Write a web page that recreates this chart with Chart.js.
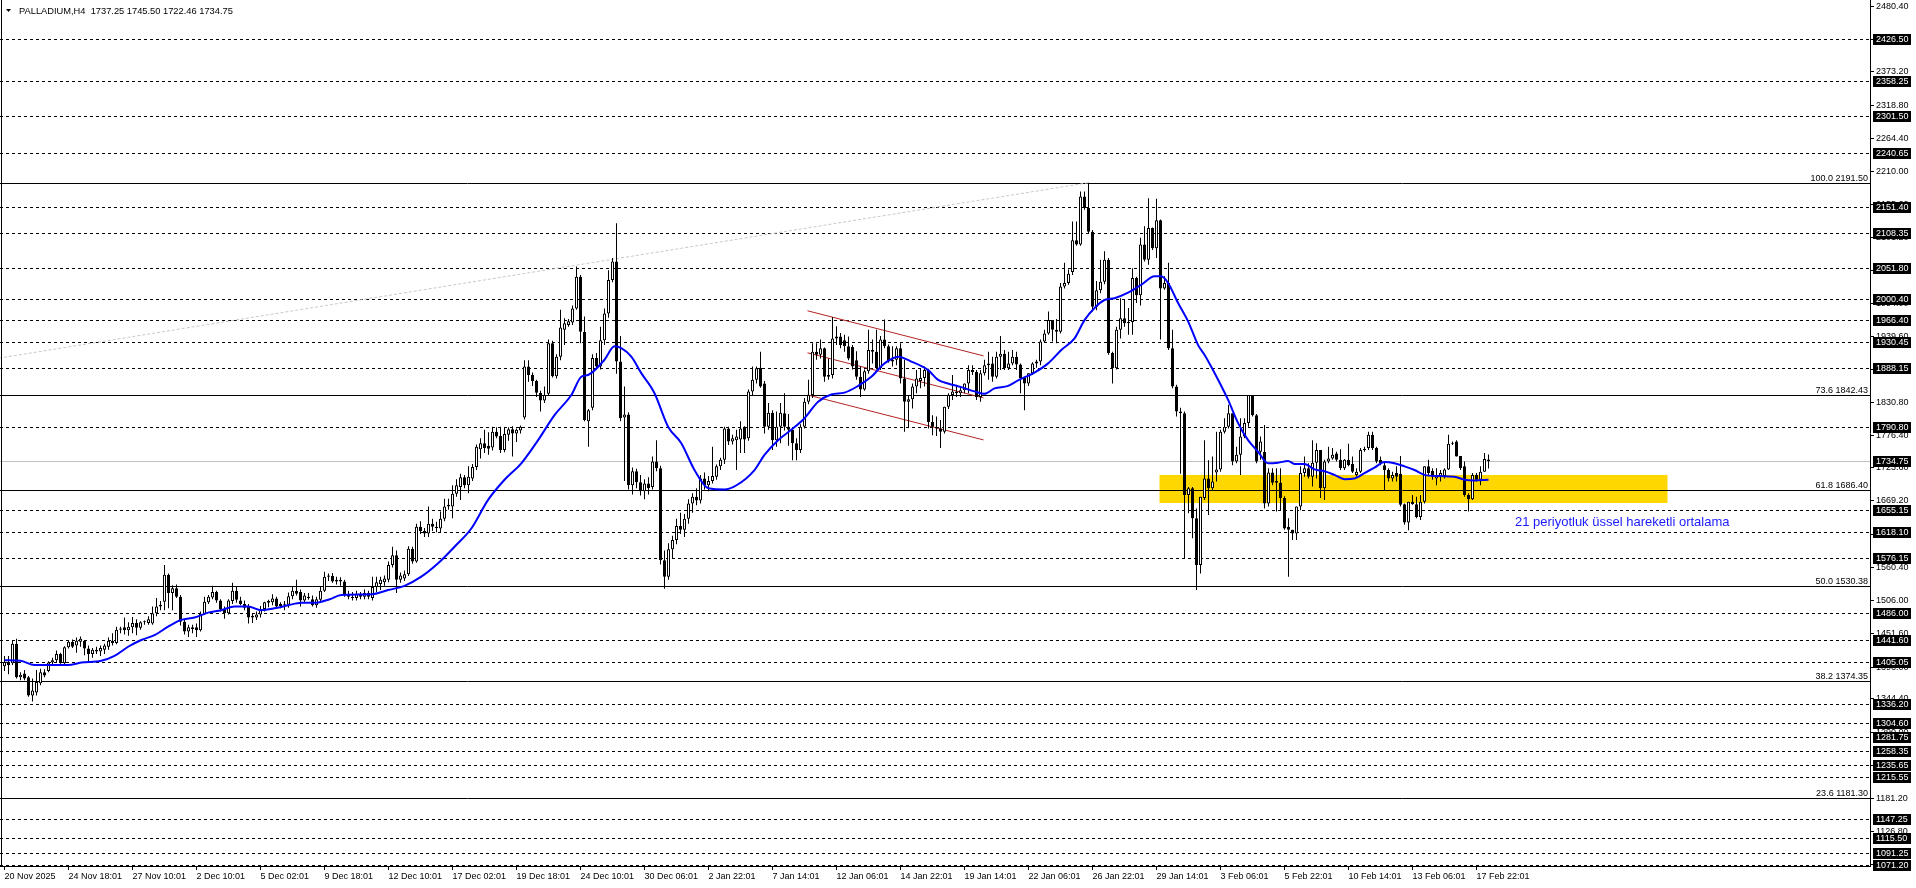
<!DOCTYPE html>
<html>
<head>
<meta charset="utf-8">
<title>PALLADIUM,H4</title>
<script src="https://cdn.jsdelivr.net/npm/chart.js@4.4.1/dist/chart.umd.min.js"></script>
<style>
html, body { margin: 0; padding: 0; background: #fff; overflow: hidden; }
#wrap { width: 1916px; height: 888px; position: relative; }
</style>
</head>
<body>
<div id="wrap"><canvas id="chart"></canvas></div>
<script>
// H4 candles, bar 0 = 20 Nov 2025 02:01
var opens = [
1398,1405,1403,1435,1380,1386,1380,1350,1355,1370,
1388,1390,1404,1408,1418,1403,1429,1438,1432,1438,
1440,1427,1418,1425,1422,1425,1430,1440,1436,1458,
1462,1457,1462,1469,1461,1470,1469,1468,1485,1496,
1504,1548,1518,1526,1512,1471,1455,1462,1462,1457,
1484,1503,1511,1520,1506,1492,1485,1505,1522,1506,
1500,1496,1478,1478,1483,1492,1502,1503,1509,1497,
1500,1499,1513,1522,1520,1506,1512,1508,1498,1507,
1522,1545,1546,1537,1540,1537,1515,1512,1510,1517,
1512,1518,1510,1528,1533,1536,1540,1564,1580,1540,
1542,1549,1591,1570,1627,1620,1616,1632,1627,1624,
1640,1660,1660,1681,1692,1708,1695,1706,1725,1754,
1764,1760,1757,1783,1776,1753,1778,1787,1780,1785,
1806,1890,1876,1866,1847,1834,1845,1928,1874,1906,
1950,1958,1962,1985,2037,1947,1800,1822,1904,1890,
1933,1977,2032,2062,1898,1806,1811,1695,1718,1700,
1685,1698,1692,1734,1723,1572,1545,1590,1605,1628,
1622,1640,1665,1676,1670,1706,1695,1702,1709,1726,
1737,1788,1767,1769,1770,1791,1772,1849,1868,1888,
1862,1791,1814,1769,1791,1813,1791,1786,1764,1753,
1791,1832,1843,1914,1909,1920,1873,1876,1936,1939,
1933,1923,1922,1900,1873,1852,1882,1917,1914,1887,
1934,1923,1898,1901,1920,1870,1832,1836,1857,1866,
1871,1884,1799,1791,1788,1783,1824,1843,1849,1846,
1851,1862,1884,1881,1840,1879,1892,1895,1873,1906,
1911,1887,1895,1906,1893,1871,1862,1879,1895,1898,
1931,1944,1966,1950,1947,2021,2027,2045,2097,2090,
2169,2150,2111,1988,2015,2029,2065,1912,1887,1950,
1969,1961,1963,2035,2007,2090,2065,2117,2084,2130,
2018,2027,1920,1857,1816,1813,1679,1690,1641,1564,
1674,1706,1690,1716,1721,1783,1791,1813,1734,1745,
1775,1797,1843,1810,1750,1750,1665,1716,1702,1699,
1674,1627,1622,1616,1660,1715,1723,1709,1732,1753,
1690,1734,1739,1747,1737,1723,1737,1730,1712,1717,
1753,1756,1778,1756,1737,1728,1720,1706,1715,1714,
1664,1634,1668,1664,1643,1668,1726,1719,1706,1709,
1710,1721,1763,1767,1743,1726,1679,1672,1712,1704,
1717,1737.25
];
var highs = [
1415,1415,1441,1443,1388,1392,1382,1378,1392,1394,
1393,1406,1412,1424,1420,1431,1441,1442,1445,1447,
1441,1432,1428,1430,1432,1435,1445,1452,1463,1463,
1478,1470,1479,1475,1472,1473,1480,1496,1510,1505,
1564,1550,1531,1532,1515,1474,1466,1466,1468,1488,
1512,1515,1530,1522,1508,1496,1508,1535,1528,1512,
1506,1500,1485,1488,1497,1504,1507,1516,1512,1503,
1505,1519,1528,1540,1524,1518,1518,1514,1512,1529,
1553,1550,1551,1545,1544,1540,1522,1520,1522,1520,
1524,1522,1545,1545,1545,1547,1570,1594,1588,1552,
1555,1595,1594,1632,1636,1625,1660,1640,1635,1652,
1673,1673,1695,1705,1714,1712,1726,1730,1762,1772,
1786,1782,1791,1790,1791,1790,1790,1792,1788,1793,
1900,1900,1880,1868,1850,1857,1934,1932,1910,1983,
1969,1968,1990,2054,2040,1972,1820,1910,1912,1955,
1985,2048,2068,2125,1940,1857,1815,1724,1722,1712,
1705,1708,1742,1769,1727,1588,1600,1612,1640,1650,
1648,1672,1682,1690,1712,1716,1710,1758,1729,1740,
1791,1791,1778,1786,1800,1792,1852,1890,1890,1914,
1866,1830,1818,1816,1830,1846,1812,1790,1772,1795,
1838,1868,1928,1928,1934,1921,1903,1971,1956,1945,
1942,1939,1925,1915,1890,1885,1950,1934,1950,1940,
1967,1926,1923,1923,1928,1901,1842,1862,1884,1887,
1890,1886,1810,1808,1802,1824,1846,1876,1860,1857,
1862,1892,1892,1884,1884,1901,1914,1906,1914,1940,
1917,1914,1917,1914,1895,1873,1879,1897,1901,1934,
1950,1980,1966,1968,2027,2060,2049,2128,2128,2177,
2177,2191.5,2114,2030,2065,2079,2068,1914,1955,2002,
1999,1986,2051,2037,2101,2120,2166,2118,2165,2131,
2038,2060,1950,1860,1822,1816,1692,1692,1657,1676,
1769,1736,1742,1783,1786,1805,1827,1813,1758,1805,
1805,1843,1843,1812,1775,1794,1723,1723,1723,1723,
1677,1641,1622,1660,1726,1742,1731,1769,1764,1753,
1737,1758,1756,1750,1754,1738,1763,1742,1723,1756,
1758,1783,1783,1758,1742,1734,1723,1717,1726,1743,
1665,1668,1679,1676,1679,1726,1737,1723,1723,1720,
1723,1778,1767,1769,1743,1734,1682,1715,1715,1726,
1748,1745.50
];
var lows = [
1390,1385,1400,1378,1375,1375,1348,1340,1350,1367,
1380,1388,1400,1405,1402,1401,1427,1428,1420,1430,
1416,1405,1412,1418,1415,1418,1425,1432,1434,1452,
1450,1448,1452,1449,1458,1466,1466,1466,1480,1490,
1490,1493,1490,1510,1465,1450,1446,1452,1446,1455,
1482,1500,1508,1502,1488,1476,1483,1500,1502,1498,
1490,1468,1469,1474,1478,1488,1495,1498,1494,1493,
1490,1494,1508,1514,1496,1502,1507,1496,1494,1503,
1520,1538,1535,1532,1530,1512,1508,1506,1506,1508,
1508,1508,1506,1520,1523,1530,1536,1560,1518,1535,
1538,1546,1566,1568,1615,1610,1610,1620,1618,1617,
1636,1655,1641,1676,1671,1690,1682,1702,1720,1739,
1748,1745,1752,1772,1748,1749,1768,1742,1766,1780,
1803,1865,1858,1840,1816,1830,1843,1872,1870,1900,
1925,1955,1958,1983,1928,1800,1758,1818,1885,1885,
1925,1970,2028,1878,1800,1702,1688,1680,1690,1678,
1672,1680,1688,1718,1565,1525,1540,1575,1598,1615,
1610,1632,1650,1662,1665,1688,1685,1698,1704,1720,
1730,1761,1762,1720,1748,1748,1768,1843,1862,1855,
1780,1786,1753,1758,1764,1785,1760,1736,1736,1748,
1788,1828,1838,1901,1903,1865,1868,1870,1925,1920,
1914,1900,1885,1868,1840,1850,1878,1895,1885,1884,
1920,1896,1890,1892,1862,1783,1790,1821,1846,1854,
1857,1788,1777,1776,1756,1780,1820,1835,1840,1840,
1846,1846,1876,1835,1832,1875,1868,1865,1870,1884,
1884,1884,1892,1884,1846,1818,1858,1876,1888,1892,
1929,1942,1931,1928,1944,2018,2024,2040,2088,2088,
2147,2109,1980,1982,2010,2025,1909,1862,1885,1936,
1955,1942,1942,1994,1990,2062,2057,2081,2068,1934,
2016,1917,1854,1808,1714,1575,1649,1608,1523,1550,
1671,1646,1687,1701,1717,1780,1788,1728,1731,1712,
1772,1791,1808,1731,1737,1657,1660,1695,1652,1654,
1622,1545,1605,1605,1654,1709,1706,1693,1706,1674,
1671,1731,1737,1734,1720,1720,1726,1715,1709,1715,
1750,1753,1753,1731,1728,1687,1701,1701,1701,1660,
1630,1621,1663,1641,1638,1665,1712,1704,1695,1701,
1706,1720,1761,1742,1720,1676,1652,1671,1701,1695,
1717,1722.46
];
var closes = [
1405,1400,1435,1380,1384,1378,1350,1358,1372,1388,
1383,1404,1408,1418,1403,1429,1438,1430,1440,1443,
1427,1418,1425,1422,1428,1432,1440,1436,1458,1460,
1457,1463,1469,1461,1470,1471,1475,1485,1496,1499,
1548,1518,1526,1512,1471,1455,1462,1459,1457,1484,
1504,1512,1520,1506,1491,1485,1506,1522,1507,1500,
1494,1478,1481,1483,1492,1503,1505,1509,1496,1500,
1499,1513,1522,1517,1506,1514,1510,1498,1508,1522,
1545,1547,1537,1540,1537,1515,1512,1510,1517,1512,
1518,1512,1528,1536,1540,1542,1564,1580,1540,1547,
1549,1591,1570,1627,1620,1616,1632,1627,1625,1640,
1660,1663,1681,1695,1708,1695,1709,1725,1758,1764,
1756,1755,1783,1775,1753,1779,1787,1780,1786,1791,
1890,1876,1866,1847,1834,1843,1928,1874,1906,1954,
1961,1964,1985,2037,1947,1802,1818,1904,1890,1933,
1977,2032,2062,1898,1805,1811,1695,1718,1700,1685,
1698,1690,1734,1723,1572,1545,1590,1605,1628,1622,
1640,1665,1676,1670,1706,1695,1702,1710,1726,1737,
1788,1767,1772,1775,1788,1770,1849,1868,1887,1857,
1791,1814,1769,1791,1814,1791,1786,1764,1753,1791,
1832,1843,1914,1909,1920,1873,1876,1936,1939,1925,
1923,1903,1890,1873,1852,1882,1917,1914,1887,1934,
1923,1898,1901,1920,1870,1832,1836,1857,1870,1871,
1884,1799,1791,1788,1783,1824,1843,1849,1846,1851,
1862,1884,1881,1840,1879,1892,1895,1873,1906,1911,
1887,1895,1906,1893,1871,1862,1879,1895,1898,1931,
1944,1966,1950,1947,2021,2027,2042,2097,2090,2169,
2150,2111,1988,2015,2029,2065,1912,1887,1950,1969,
1961,1963,2035,2007,2090,2065,2117,2084,2130,2018,
2027,1920,1857,1816,1813,1679,1690,1641,1564,1676,
1706,1690,1701,1721,1783,1791,1813,1734,1745,1775,
1797,1843,1810,1734,1767,1665,1716,1699,1699,1674,
1624,1622,1616,1660,1715,1723,1709,1732,1753,1690,
1734,1739,1745,1737,1723,1737,1728,1717,1717,1753,
1755,1778,1756,1734,1731,1720,1706,1712,1709,1663,
1634,1668,1664,1643,1668,1726,1715,1709,1712,1715,
1721,1763,1764,1742,1723,1679,1672,1712,1704,1717,
1738,1734.75
];

// 21 period EMA
var emaBars = [0,4,7.5,11.7,15.9,19.2,24.2,27.5,30.9,34.2,37.5,40.9,44.2,47.5,50.9,54.2,57.5,60.9,64.2,67.5,
  70.9,74.2,77.5,81.3,84.2,91.7,95.9,100,104.2,108.4,112.5,116.7,120.9,125,129.2,133.4,137.5,141.7,144.2,145.9,
  150,152.5,154.2,156.7,159.2,162.5,165.9,169.2,172.5,176,180,183,187.5,190,193.4,196.7,200,203.4,206.7,210,
  213.4,216.7,220,223.4,226.7,230.9,233.4,235.9,239.2,242.5,245,247.5,250.9,253.4,257.5,260.9,264.2,267.5,270,272.5,
  275,277.5,280.9,284.2,287.5,289.2,290.9,293.4,295.9,298.4,300,303.4,305.9,308.4,310.9,313.4,315.9,318.4,320.9,322.5,
  325,327.5,330,332.5,335,337.5,340,342.5,345,347.5,350,352.5,355,358.4,362.5,365,367.5,371];
var emaValues = [1408,1407,1400,1400,1400,1404,1407,1415,1430,1441,1449,1463,1474,1478,1486,1490,1496,1496,1490,1493,
  1498,1502,1502,1508,1515,1516,1523,1530,1545,1567,1594,1624,1671,1704,1731,1769,1810,1843,1873,1876,
  1901,1923,1920,1906,1879,1846,1791,1764,1720,1690,1688,1695,1720,1745,1769,1786,1805,1832,1844,1847,
  1858,1873,1895,1906,1898,1884,1868,1862,1856,1849,1845,1854,1858,1867,1880,1895,1917,1936,1966,1986,
  1999,2002,2011,2024,2038,2038,2027,1994,1964,1925,1909,1868,1835,1797,1769,1750,1731,1732,1735,1730,
  1730,1721,1718,1712,1705,1706,1715,1724,1733,1731,1726,1720,1712,1710,1709,1704,1703,1704];

var dateBars = [0,16,32,48,64,80,96,112,128,144,160,176,192,208,224,240,256,272,288,304,320,336,352,368];
var dateLabels = ['20 Nov 2025','24 Nov 18:01','27 Nov 10:01','2 Dec 10:01','5 Dec 02:01','9 Dec 18:01',
  '12 Dec 10:01','17 Dec 02:01','19 Dec 18:01','24 Dec 10:01','30 Dec 06:01','2 Jan 22:01','7 Jan 14:01',
  '12 Jan 06:01','14 Jan 22:01','19 Jan 14:01','22 Jan 06:01','26 Jan 22:01','29 Jan 14:01','3 Feb 06:01',
  '5 Feb 22:01','10 Feb 14:01','13 Feb 06:01','17 Feb 22:01'];

var priceTicks = [2480.40,2426.00,2373.20,2318.80,2264.40,2210.00,2155.60,2101.20,2046.80,1994.00,1939.60,
  1885.20,1830.80,1776.40,1723.60,1669.20,1614.80,1560.40,1506.00,1451.60,1396.00,1344.40,1290.00,1235.60,
  1181.20,1126.80,1072.40];

var levelLines = [2426.50,2358.25,2301.50,2240.65,2151.40,2108.35,2051.80,2000.40,1966.40,1930.45,1888.15,
  1790.80,1655.15,1618.10,1576.15,1486.00,1441.60,1405.05,1336.20,1304.60,1281.75,1258.35,1235.65,1215.55,
  1147.25,1115.50,1091.25,1071.20];
var fibValues = [2191.50,1842.43,1686.40,1530.38,1374.35,1181.30];
var fibNames = ['100.0','73.6','61.8','50.0','38.2','23.6'];
var bidPrice = 1734.75;

var fibTrendBars = [-980, 271];
var fibTrendPrices = [869.26, 2191.50];
var channelBars = [200.75, 244.75];
var channelTop = [1981.3, 1907.3];
var channelMid = [1912.3, 1838.3];
var channelLow = [1843.3, 1769.4];
var zoneBars = [288.75, 415.75];
var zonePrices = [1665.9, 1711.9];
var noteText = '21 periyotluk üssel hareketli ortalama';
var noteBar = 377.6;
var noteePrice = 1634.7;

var FONT = '"Liberation Sans", Arial, sans-serif';

function buildCandles()
{
	let wicks = [], bodies = [], fills = [];
	for (let i = 0; i < closes.length; i++)
	{
		wicks.push({x: i, y: [lows[i], highs[i]]});
		bodies.push({x: i, y: [opens[i], closes[i]]});
		fills.push(closes[i] >= opens[i] ? '#ffffff' : '#000000');
	}
	return {wicks: wicks, bodies: bodies, fills: fills};
}

function twoPoints(bars, prices)
{
	return [{x: bars[0], y: prices[0]}, {x: bars[1], y: prices[1]}];
}

var levelsPlugin = {
	id: 'levels',
	beforeDatasetsDraw: function(chart)
	{
		let ctx = chart.ctx, area = chart.chartArea;
		let xs = chart.scales.x, ys = chart.scales.y;
		ctx.save();

		// support zone
		let zx1 = xs.getPixelForValue(zoneBars[0]), zx2 = xs.getPixelForValue(zoneBars[1]);
		let zy1 = ys.getPixelForValue(zonePrices[1]), zy2 = ys.getPixelForValue(zonePrices[0]);
		ctx.fillStyle = '#ffd700';
		ctx.fillRect(zx1, zy1, zx2 - zx1, zy2 - zy1);

		ctx.lineWidth = 1;
		ctx.strokeStyle = '#000';
		ctx.setLineDash([3, 3]);
		for (let i = 0; i < levelLines.length; i++)
		{
			let y = Math.round(ys.getPixelForValue(levelLines[i])) + 0.5;
			ctx.beginPath();
			ctx.moveTo(area.left, y);
			ctx.lineTo(area.right, y);
			ctx.stroke();
		}
		ctx.setLineDash([]);

		for (let i = 0; i < fibValues.length; i++)
		{
			let y = Math.round(ys.getPixelForValue(fibValues[i])) + 0.5;
			ctx.beginPath();
			ctx.moveTo(area.left, y);
			ctx.lineTo(area.right, y);
			ctx.stroke();
		}

		let by = Math.round(ys.getPixelForValue(bidPrice)) + 0.5;
		ctx.strokeStyle = '#c0c0c0';
		ctx.beginPath();
		ctx.moveTo(area.left, by);
		ctx.lineTo(area.right, by);
		ctx.stroke();
		ctx.restore();
	},
	afterDatasetsDraw: function(chart)
	{
		let ctx = chart.ctx, area = chart.chartArea;
		let xs = chart.scales.x, ys = chart.scales.y;
		ctx.save();
		ctx.font = '9px ' + FONT;
		ctx.fillStyle = '#000';
		ctx.textAlign = 'right';
		ctx.textBaseline = 'alphabetic';
		for (let i = 0; i < fibValues.length; i++)
		{
			let y = Math.round(ys.getPixelForValue(fibValues[i]));
			ctx.fillText(fibNames[i] + ' ' + fibValues[i].toFixed(2), area.right - 2, y - 2);
		}

		ctx.font = '13px ' + FONT;
		ctx.fillStyle = '#1a1aff';
		ctx.textAlign = 'left';
		ctx.textBaseline = 'middle';
		ctx.fillText(noteText, xs.getPixelForValue(noteBar), ys.getPixelForValue(noteePrice));
		ctx.restore();
	},
	afterDraw: function(chart)
	{
		let ctx = chart.ctx, area = chart.chartArea;
		let ys = chart.scales.y;
		ctx.save();

		// price boxes on the right scale
		ctx.font = '9px ' + FONT;
		ctx.textAlign = 'left';
		ctx.textBaseline = 'middle';
		let boxed = levelLines.concat([bidPrice]);
		for (let i = 0; i < boxed.length; i++)
		{
			let y = Math.round(ys.getPixelForValue(boxed[i]));
			ctx.fillStyle = '#000';
			ctx.fillRect(area.right + 3, y - 5, 38, 11);
			ctx.fillStyle = '#fff';
			ctx.fillText(boxed[i].toFixed(2), area.right + 6, y + 0.5);
		}

		// frame
		ctx.strokeStyle = '#000';
		ctx.lineWidth = 1;
		ctx.beginPath();
		ctx.moveTo(1.5, area.top);
		ctx.lineTo(1.5, area.bottom);
		ctx.stroke();

		// symbol header
		let last = closes.length - 1;
		ctx.fillStyle = '#000';
		ctx.beginPath();
		ctx.moveTo(6, 9);
		ctx.lineTo(11, 9);
		ctx.lineTo(8.5, 12);
		ctx.closePath();
		ctx.fill();
		ctx.font = '9.3px ' + FONT;
		ctx.textBaseline = 'middle';
		ctx.fillText('PALLADIUM,H4  ' + opens[last].toFixed(2) + ' ' + highs[last].toFixed(2) + ' ' +
			lows[last].toFixed(2) + ' ' + closes[last].toFixed(2), 19, 11);
		ctx.restore();
	}
};

function drawChart()
{
	let c = buildCandles();
	let emaData = [];
	for (let i = 0; i < emaBars.length; i++)
	{
		emaData.push({x: emaBars[i], y: emaValues[i]});
	}

	new Chart(document.getElementById('chart'),
	{
		type: 'bar',
		data:
		{
			datasets:
			[
				{
					type: 'line',
					data: emaData,
					borderColor: '#0000ff',
					borderWidth: 2,
					pointRadius: 0,
					cubicInterpolationMode: 'monotone',
					order: 0
				},
				{
					data: c.bodies,
					backgroundColor: c.fills,
					borderColor: '#000',
					borderWidth: 1,
					borderSkipped: false,
					inflateAmount: 0,
					barThickness: 3,
					minBarLength: 1,
					grouped: false,
					order: 1
				},
				{
					data: c.wicks,
					backgroundColor: '#000',
					borderWidth: 0,
					inflateAmount: 0,
					barThickness: 1,
					grouped: false,
					order: 2
				},
				{
					type: 'line',
					data: twoPoints(channelBars, channelTop),
					borderColor: '#b22222',
					borderWidth: 1,
					pointRadius: 0,
					order: 3
				},
				{
					type: 'line',
					data: twoPoints(channelBars, channelMid),
					borderColor: '#b22222',
					borderWidth: 1,
					pointRadius: 0,
					order: 3
				},
				{
					type: 'line',
					data: twoPoints(channelBars, channelLow),
					borderColor: '#b22222',
					borderWidth: 1,
					pointRadius: 0,
					order: 3
				},
				{
					type: 'line',
					data: twoPoints(fibTrendBars, fibTrendPrices),
					borderColor: '#c8c8c8',
					borderWidth: 1,
					borderDash: [3, 2],
					pointRadius: 0,
					order: 4
				}
			]
		},
		options:
		{
			responsive: true,
			maintainAspectRatio: false,
			animation: false,
			events: [],
			layout: { padding: 0 },
			plugins:
			{
				legend: { display: false },
				tooltip: { enabled: false }
			},
			scales:
			{
				x:
				{
					type: 'linear',
					min: -1.125,
					max: 466.375,
					offset: false,
					bounds: 'data',
					grid: { display: true, drawOnChartArea: false, drawTicks: true, tickLength: 4, color: '#000', offset: false },
					border: { display: true, color: '#000', width: 1 },
					ticks:
					{
						autoSkip: false,
						maxRotation: 0,
						minRotation: 0,
						align: 'start',
						padding: 1,
						color: '#000',
						font: { family: FONT, size: 9 },
						callback: function(value, index) { return dateLabels[index]; }
					},
					afterBuildTicks: function(scale)
					{
						scale.ticks = dateBars.map(function(b) { return {value: b}; });
					},
					afterFit: function(scale)
					{
						scale.height = 22;
						scale.paddingLeft = 0;
						scale.paddingRight = 0;
					}
				},
				y:
				{
					type: 'linear',
					position: 'right',
					min: 1070.2,
					max: 2491.3,
					bounds: 'data',
					grid: { display: true, drawOnChartArea: false, drawTicks: true, tickLength: 4, color: '#000' },
					border: { display: true, color: '#000', width: 1 },
					ticks:
					{
						autoSkip: false,
						padding: 2,
						color: '#000',
						font: { family: FONT, size: 9 },
						callback: function(value) { return value.toFixed(2); }
					},
					afterBuildTicks: function(scale)
					{
						scale.ticks = priceTicks.map(function(v) { return {value: v}; });
					},
					afterFit: function(scale)
					{
						scale.width = 46;
						scale.paddingTop = 0;
						scale.paddingBottom = 0;
					}
				}
			}
		},
		plugins: [levelsPlugin]
	});
}

drawChart();
</script>
</body>
</html>
